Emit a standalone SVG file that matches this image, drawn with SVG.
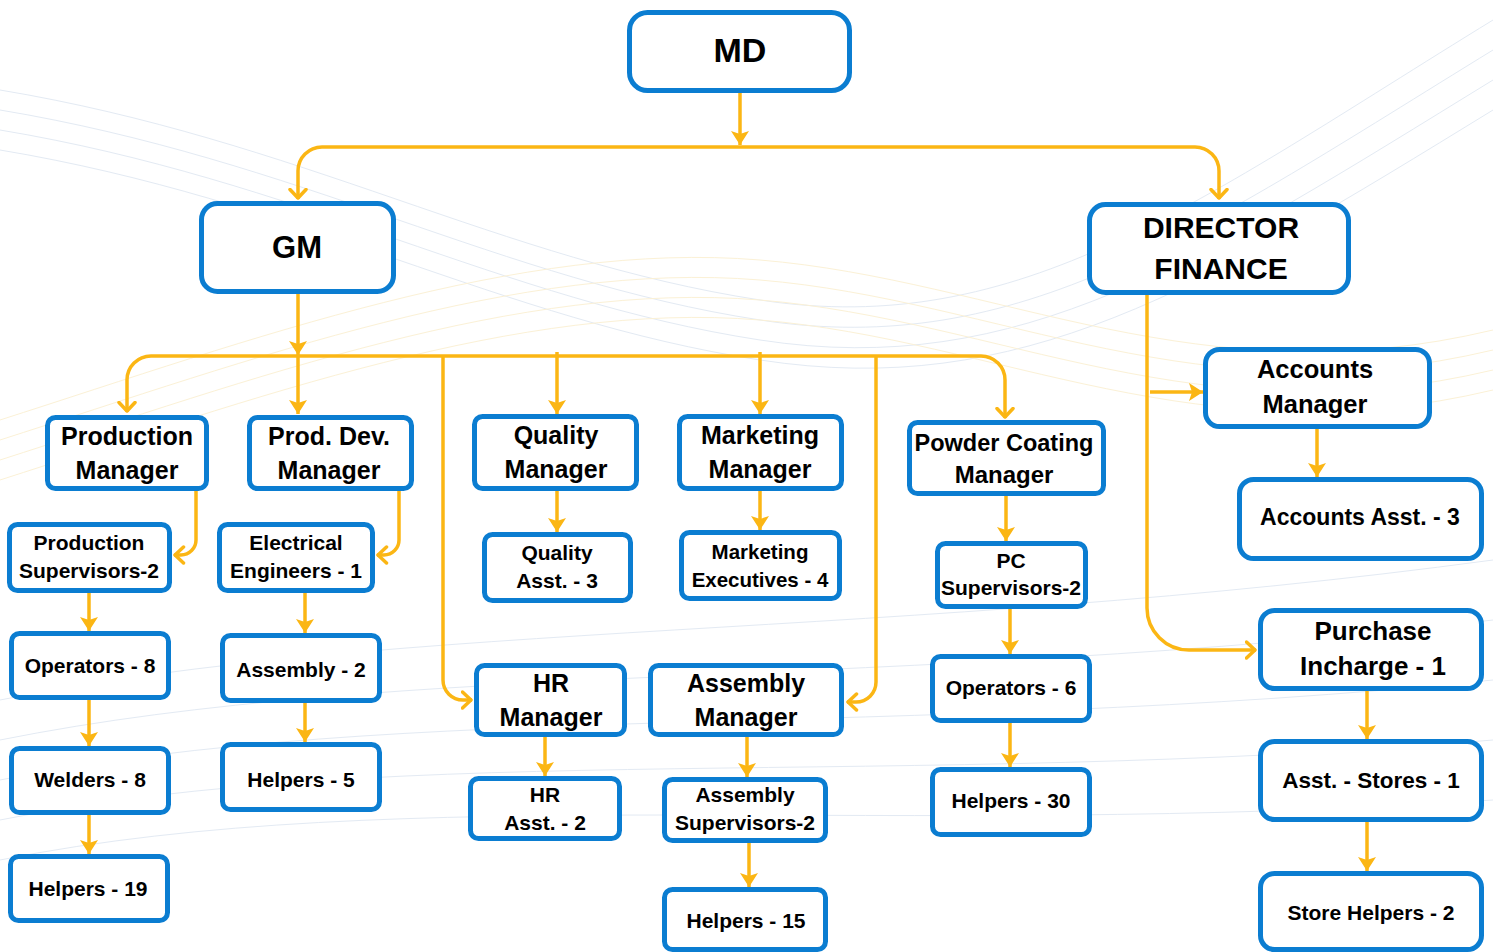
<svg xmlns="http://www.w3.org/2000/svg" width="1493" height="952" viewBox="0 0 1493 952">
<defs>
<style>
.box{fill:#fff;stroke:#0B7DD1;stroke-width:5}
.t{font-family:"Liberation Sans",Arial,sans-serif;font-weight:bold;fill:#000;text-anchor:middle}
.c{fill:none;stroke:#FBB614;stroke-width:3.5}
.f{marker-end:url(#af)}
.o{marker-end:url(#ao)}
.wb{fill:none;stroke:#E3EAF3;stroke-width:1}
.wy{fill:none;stroke:#FBF1D6;stroke-width:1}
</style>
<marker id="af" markerUnits="userSpaceOnUse" viewBox="0 0 14 18" markerWidth="14" markerHeight="18" refX="14" refY="9" orient="auto">
<path d="M0,0 L14,9 L0,18 L3,9 Z" fill="#FBB614"/>
</marker>
<marker id="ao" markerUnits="userSpaceOnUse" viewBox="0 0 14 20" markerWidth="14" markerHeight="20" refX="11.5" refY="10" orient="auto">
<path d="M2,2 L10.5,10 L2,18" fill="none" stroke="#FBB614" stroke-width="3.5" stroke-linecap="round" stroke-linejoin="round"/>
</marker>
</defs>
<rect width="1493" height="952" fill="#fff"/>

<g id="background">
<path class="wb" d="M0,90 C300,140 500,260 760,300 S1200,200 1493,20"/>
<path class="wb" d="M0,110 C300,160 500,280 760,320 S1200,230 1493,50"/>
<path class="wb" d="M0,130 C300,180 500,300 760,340 S1200,260 1493,80"/>
<path class="wb" d="M0,150 C300,200 500,320 760,360 S1200,290 1493,110"/>
<path class="wy" d="M0,420 C250,340 520,240 760,260 S1200,400 1493,330"/>
<path class="wy" d="M0,440 C250,360 520,260 760,280 S1200,420 1493,350"/>
<path class="wy" d="M0,460 C250,380 520,280 760,300 S1200,440 1493,370"/>
<path class="wy" d="M0,480 C250,400 520,300 760,320 S1200,460 1493,390"/>
<path class="wb" d="M0,700 C400,620 900,640 1493,560"/>
<path class="wb" d="M0,740 C400,660 900,690 1493,620"/>
<path class="wb" d="M0,780 C400,700 900,740 1493,680"/>
<path class="wb" d="M0,820 C400,740 900,790 1493,740"/>
<path class="wb" d="M0,860 C400,780 900,840 1493,800"/>
</g>

<g id="connectors">
<path class="c f" d="M740,93 V145"/>
<path class="c o" d="M740,147 H322 A24,24 0 0 0 298,171 V199"/>
<path class="c o" d="M740,147 H1195 A24,24 0 0 1 1219,171 V199"/>
<path class="c f" d="M298,294 V355"/>
<path class="c o" d="M298,356 H151 A24,24 0 0 0 127,380 V412"/>
<path class="c o" d="M298,356 H981 A24,24 0 0 1 1005,380 V418"/>
<path class="c f" d="M298,356 V414"/>
<path class="c f" d="M557,352 V414"/>
<path class="c f" d="M760,352 V414"/>
<path class="c o" d="M443,356 V680 A20,20 0 0 0 463,700 H472"/>
<path class="c o" d="M876,356 V682 A20,20 0 0 1 856,702 H847"/>
<path class="c o" d="M196,491 V540 A15,15 0 0 1 181,555 H174"/>
<path class="c o" d="M399,491 V540 A15,15 0 0 1 384,555 H377"/>
<path class="c f" d="M557,491 V532"/>
<path class="c f" d="M760,491 V530"/>
<path class="c f" d="M89,593 V631"/>
<path class="c f" d="M89,700 V746"/>
<path class="c f" d="M89,815 V854"/>
<path class="c f" d="M305,593 V633"/>
<path class="c f" d="M305,703 V742"/>
<path class="c f" d="M545,737 V776"/>
<path class="c f" d="M747,737 V777"/>
<path class="c f" d="M749,843 V887"/>
<path class="c f" d="M1006,496 V541"/>
<path class="c f" d="M1010,609 V654"/>
<path class="c f" d="M1010,723 V767"/>
<path class="c o" d="M1147,295 V608 A42,42 0 0 0 1189,650 H1256"/>
<path class="c f" d="M1150,392 H1203"/>
<path class="c f" d="M1317,429 V477"/>
<path class="c f" d="M1367,691 V739"/>
<path class="c f" d="M1367,822 V871"/>
</g>

<g id="md"><rect class="box" x="629.5" y="12.5" width="220" height="78" rx="18"/><text class="t" x="740" y="62" font-size="34">MD</text></g>
<g id="gm"><rect class="box" x="201.5" y="203.5" width="192" height="88" rx="16"/><text class="t" x="297" y="258" font-size="31">GM</text></g>
<g id="director-finance"><rect class="box" x="1089.5" y="204.5" width="259" height="88" rx="16"/><text class="t" x="1221" y="238" font-size="30">DIRECTOR</text><text class="t" x="1221" y="279" font-size="30">FINANCE</text></g>

<g id="production-manager"><rect class="box" x="47.5" y="417.5" width="159" height="71" rx="8"/><text class="t" x="127" y="445" font-size="25">Production</text><text class="t" x="127" y="479" font-size="25">Manager</text></g>
<g id="prod-dev-manager"><rect class="box" x="249.5" y="417.5" width="162" height="71" rx="8"/><text class="t" x="329" y="445" font-size="25">Prod. Dev.</text><text class="t" x="329" y="479" font-size="25">Manager</text></g>
<g id="quality-manager"><rect class="box" x="474.5" y="416.5" width="162" height="72" rx="8"/><text class="t" x="556" y="444" font-size="25">Quality</text><text class="t" x="556" y="478" font-size="25">Manager</text></g>
<g id="marketing-manager"><rect class="box" x="679.5" y="416.5" width="162" height="72" rx="8"/><text class="t" x="760" y="444" font-size="25">Marketing</text><text class="t" x="760" y="478" font-size="25">Manager</text></g>
<g id="powder-coating-manager"><rect class="box" x="909.5" y="422.5" width="194" height="71" rx="8"/><text class="t" x="1004" y="451" font-size="23.5">Powder Coating</text><text class="t" x="1004" y="483" font-size="24">Manager</text></g>
<g id="accounts-manager"><rect class="box" x="1205.5" y="349.5" width="224" height="77" rx="14"/><text class="t" x="1315" y="378" font-size="25.5">Accounts</text><text class="t" x="1315" y="413" font-size="25.5">Manager</text></g>
<g id="accounts-asst"><rect class="box" x="1239.5" y="479.5" width="242" height="79" rx="14"/><text class="t" x="1360" y="525" font-size="23">Accounts Asst. - 3</text></g>

<g id="production-supervisors"><rect class="box" x="9.5" y="524.5" width="160" height="66" rx="8"/><text class="t" x="89" y="550" font-size="21">Production</text><text class="t" x="89" y="578" font-size="21">Supervisors-2</text></g>
<g id="electrical-engineers"><rect class="box" x="219.5" y="524.5" width="153" height="66" rx="8"/><text class="t" x="296" y="550" font-size="21">Electrical</text><text class="t" x="296" y="578" font-size="21">Engineers - 1</text></g>
<g id="quality-asst"><rect class="box" x="484.5" y="534.5" width="146" height="66" rx="8"/><text class="t" x="557" y="560" font-size="21">Quality</text><text class="t" x="557" y="588" font-size="21">Asst. - 3</text></g>
<g id="marketing-executives"><rect class="box" x="681.5" y="532.5" width="158" height="66" rx="8"/><text class="t" x="760" y="559" font-size="20.5">Marketing</text><text class="t" x="760" y="587" font-size="20.5">Executives - 4</text></g>
<g id="pc-supervisors"><rect class="box" x="937.5" y="543.5" width="148" height="63" rx="8"/><text class="t" x="1011" y="568" font-size="21">PC</text><text class="t" x="1011" y="595" font-size="21">Supervisors-2</text></g>

<g id="operators-8"><rect class="box" x="11.5" y="633.5" width="157" height="64" rx="8"/><text class="t" x="90" y="673" font-size="21">Operators - 8</text></g>
<g id="welders-8"><rect class="box" x="11.5" y="748.5" width="157" height="64" rx="8"/><text class="t" x="90" y="787" font-size="21">Welders - 8</text></g>
<g id="helpers-19"><rect class="box" x="10.5" y="856.5" width="157" height="64" rx="8"/><text class="t" x="88" y="896" font-size="21">Helpers - 19</text></g>
<g id="assembly-2"><rect class="box" x="222.5" y="635.5" width="157" height="65" rx="8"/><text class="t" x="301" y="677" font-size="21">Assembly - 2</text></g>
<g id="helpers-5"><rect class="box" x="222.5" y="744.5" width="157" height="65" rx="8"/><text class="t" x="301" y="787" font-size="21">Helpers - 5</text></g>

<g id="hr-manager"><rect class="box" x="476.5" y="665.5" width="148" height="69" rx="8"/><text class="t" x="551" y="692" font-size="25">HR</text><text class="t" x="551" y="726" font-size="25">Manager</text></g>
<g id="assembly-manager"><rect class="box" x="650.5" y="665.5" width="191" height="69" rx="8"/><text class="t" x="746" y="692" font-size="25">Assembly</text><text class="t" x="746" y="726" font-size="25">Manager</text></g>
<g id="hr-asst"><rect class="box" x="470.5" y="778.5" width="149" height="60" rx="8"/><text class="t" x="545" y="802" font-size="21">HR</text><text class="t" x="545" y="830" font-size="21">Asst. - 2</text></g>
<g id="assembly-supervisors"><rect class="box" x="664.5" y="779.5" width="161" height="61" rx="8"/><text class="t" x="745" y="802" font-size="21">Assembly</text><text class="t" x="745" y="830" font-size="21">Supervisors-2</text></g>
<g id="helpers-15"><rect class="box" x="664.5" y="889.5" width="161" height="60" rx="8"/><text class="t" x="746" y="928" font-size="21">Helpers - 15</text></g>

<g id="operators-6"><rect class="box" x="932.5" y="656.5" width="157" height="64" rx="8"/><text class="t" x="1011" y="695" font-size="21">Operators - 6</text></g>
<g id="helpers-30"><rect class="box" x="932.5" y="769.5" width="157" height="65" rx="8"/><text class="t" x="1011" y="808" font-size="21">Helpers - 30</text></g>

<g id="purchase-incharge"><rect class="box" x="1260.5" y="610.5" width="221" height="78" rx="14"/><text class="t" x="1373" y="640" font-size="26">Purchase</text><text class="t" x="1373" y="675" font-size="26">Incharge - 1</text></g>
<g id="asst-stores"><rect class="box" x="1260.5" y="741.5" width="221" height="78" rx="14"/><text class="t" x="1371" y="788" font-size="22.5">Asst. - Stores - 1</text></g>
<g id="store-helpers"><rect class="box" x="1260.5" y="873.5" width="221" height="76" rx="14"/><text class="t" x="1371" y="920" font-size="21">Store Helpers - 2</text></g>
</svg>
